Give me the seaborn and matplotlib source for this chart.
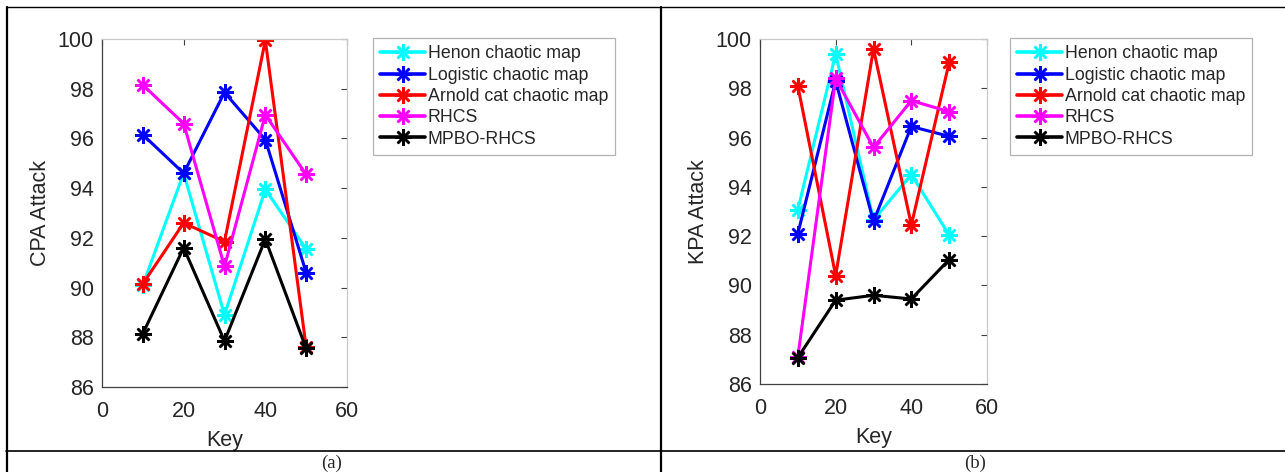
import numpy as np
import pandas as pd
import matplotlib
matplotlib.use("Agg")
import matplotlib.pyplot as plt
import seaborn as sns
from matplotlib.lines import Line2D

keys = [10, 20, 30, 40, 50]
series_names = ["Henon chaotic map", "Logistic chaotic map", "Arnold cat chaotic map", "RHCS", "MPBO-RHCS"]
colors = ["#00FFFF", "#0000FF", "#FF0000", "#FF00FF", "#000000"]

cpa_henon = [90.1, 94.6, 88.9, 93.95, 91.55]
cpa_logistic = [96.15, 94.6, 97.85, 95.95, 90.6]
cpa_arnold = [90.15, 92.6, 91.85, 99.95, 87.6]
cpa_rhcs = [98.15, 96.6, 90.85, 96.95, 94.55]
cpa_mpbo = [88.15, 91.6, 87.85, 91.95, 87.55]

kpa_henon = [93.07, 99.4, 92.65, 94.5, 92.05]
kpa_logistic = [92.1, 98.3, 92.6, 96.45, 96.05]
kpa_arnold = [98.1, 90.4, 99.6, 92.45, 99.05]
kpa_rhcs = [87.1, 98.4, 95.6, 97.5, 97.05]
kpa_mpbo = [87.07, 89.4, 89.6, 89.45, 91.05]

y_ticks = [86, 88, 90, 92, 94, 96, 98, 100]
x_ticks = [0, 20, 40, 60]


def build(vals):
    rows = []
    for name, v in zip(series_names, vals):
        for k, val in zip(keys, v):
            rows.append({"Key": k, "value": val, "series": name})
    return pd.DataFrame(rows)


df_cpa = build([cpa_henon, cpa_logistic, cpa_arnold, cpa_rhcs, cpa_mpbo])
df_kpa = build([kpa_henon, kpa_logistic, kpa_arnold, kpa_rhcs, kpa_mpbo])

sns.set_theme(style="white")
plt.rcParams["font.family"] = ["Liberation Sans", "DejaVu Sans"]

W, H = 1285, 472
fig = plt.figure(figsize=(W / 100, H / 100), dpi=100)
fig.patch.set_facecolor("white")


def px_axes(x0, y0, x1, y1):
    return fig.add_axes([x0 / W, 1 - y1 / H, (x1 - x0) / W, (y1 - y0) / H])


ax1 = px_axes(102, 39, 347, 387)
ax2 = px_axes(760, 39, 987, 384)

palette = dict(zip(series_names, colors))
ast = (8, 2, 0)
MS = 12
MEW = 1.8
LW = 2.2

for ax, df, ylab, leg_x in [(ax1, df_cpa, "CPA Attack", 373), (ax2, df_kpa, "KPA Attack", 1010)]:
    sns.lineplot(data=df, x="Key", y="value", hue="series", style="series",
                 palette=palette, hue_order=series_names, style_order=series_names,
                 markers=[ast] * 5, dashes=False, linewidth=LW,
                 markersize=MS, ax=ax, sort=False, legend=False)
    for ln in ax.lines:
        ln.set_markeredgecolor(ln.get_color())
        ln.set_markerfacecolor(ln.get_color())
        ln.set_markeredgewidth(MEW)
    ax.set_xlim(0, 60)
    ax.set_ylim(86, 100)
    ax.set_xticks(x_ticks)
    ax.set_yticks(y_ticks)
    ax.tick_params(axis="both", labelsize=15.5, direction="in", length=4,
                   top=True, right=True, color="#404040", labelcolor="#262626", width=0.8)
    ax.tick_params(axis="x", pad=10)
    ax.tick_params(axis="y", pad=6)
    ax.set_xlabel("Key", fontsize=15.5, color="#262626", labelpad=6)
    ax.set_ylabel(ylab, fontsize=15.5, color="#262626", labelpad=5)
    for s in ["left", "bottom"]:
        ax.spines[s].set_color("#404040")
        ax.spines[s].set_linewidth(0.9)
    for s in ["top", "right"]:
        ax.spines[s].set_color("#c8c8c8")
        ax.spines[s].set_linewidth(0.9)
    ax.set_facecolor("white")
    handles = [Line2D([], [], color=c, marker=ast, markersize=MS, markeredgewidth=MEW,
                      markeredgecolor=c, linewidth=LW + 0.4)
               for c in colors]
    leg = ax.legend(handles, series_names, loc="upper left",
                    bbox_to_anchor=(leg_x / W, 1 - 38 / H), bbox_transform=fig.transFigure,
                    borderaxespad=0, fontsize=12.8, frameon=True, fancybox=False,
                    handlelength=2.5, handletextpad=0.15, labelspacing=0.24,
                    borderpad=0.42)
    leg.get_frame().set_edgecolor("#a0a0a0")
    leg.get_frame().set_linewidth(0.9)


def fline(x0, y0, x1, y1, lw):
    fig.add_artist(Line2D([x0 / W, x1 / W], [1 - y0 / H, 1 - y1 / H],
                          transform=fig.transFigure, color="black", linewidth=lw))


fline(6, 7, 1285, 7, 1.0)
fline(7, 7, 7, 472, 1.6)
fline(661, 7, 661, 472, 1.6)
fline(6, 451, 1285, 451, 1.2)

fig.text(332 / W, 1 - 463 / H, "(a)", ha="center", va="center",
         fontsize=13.5, family=["Liberation Serif", "DejaVu Serif"])
fig.text(975 / W, 1 - 463 / H, "(b)", ha="center", va="center",
         fontsize=13.5, family=["Liberation Serif", "DejaVu Serif"])

fig.savefig("out.png", dpi=100, facecolor="white")
